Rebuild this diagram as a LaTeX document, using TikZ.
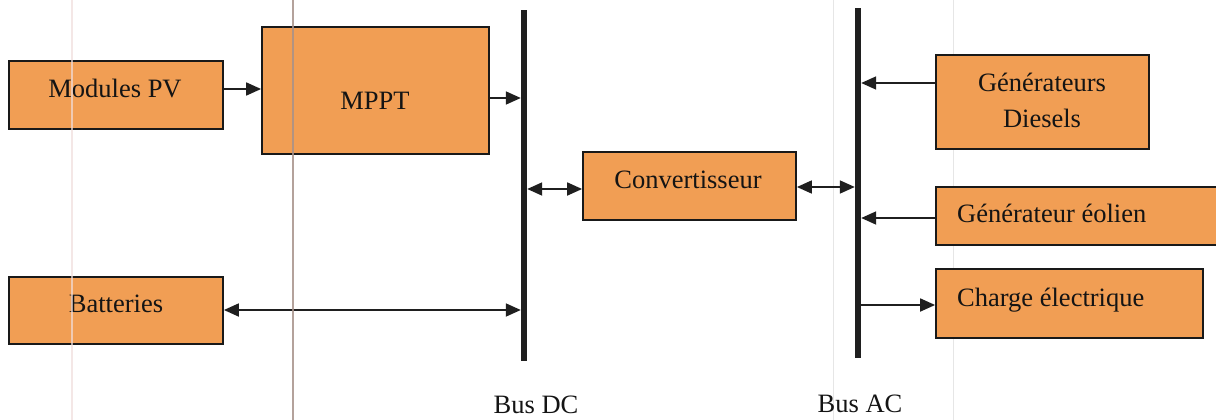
\documentclass[tikz,border=0pt]{standalone}
\usepackage{fontspec}
\setmainfont{Liberation Serif}
\usetikzlibrary{arrows.meta}
\definecolor{boxfill}{RGB}{241,158,84}
\definecolor{faintpink}{RGB}{240,222,220}
\definecolor{scangray}{RGB}{168,146,138}
\definecolor{faintgray}{RGB}{230,230,230}
\tikzset{
  block/.style={draw=black!90, line width=1.8pt, fill=boxfill, inner sep=0pt},
  busbar/.style={fill=black!88, draw=none, inner sep=0pt, minimum width=6pt},
  lbl/.style={inner sep=0pt, text=black!92, font=\fontsize{26.5}{35}\selectfont},
  tip/.tip={Triangle[length=15pt,width=13pt]},
  link/.style={line width=1.8pt, draw=black!88, -tip},
  link2/.style={line width=1.8pt, draw=black!88, tip-tip},
}
\newcommand{\blockat}[5]{% name, left, top, right, bottom
  \node[block, minimum width={(#4-#2)*1pt}, minimum height={(#5-#3)*1pt}]
    (#1) at ({(#2+#4)/2},{(#3+#5)/2}) {};}
\begin{document}
\begin{tikzpicture}[x=1pt, y=-1pt]
  \useasboundingbox (0,0) rectangle (1216,420);
  \clip (0,0) rectangle (1216,420);
  \fill[white] (0,0) rectangle (1216,420);

  % faint guide lines of the sheet
  \draw[faintgray, line width=1pt] (833,0) -- (833,420);
  \draw[faintgray, line width=1pt] (953,0) -- (953,420);

  % blocks
  \blockat{pv}{9}{61}{223}{129}
  \blockat{mppt}{262}{27}{489}{154}
  \blockat{conv}{583}{152}{796}{220}
  \blockat{diesel}{936}{55}{1149}{149}
  \blockat{eol}{936}{187}{1240}{245}
  \blockat{charge}{936}{269}{1203}{338}
  \blockat{batt}{9}{277}{223}{344}

  % buses
  \node[busbar, minimum height=351pt] (dc) at (524,185.5) {};
  \node[busbar, minimum height=350pt] (ac) at (858,183) {};

  % texts
  \node[lbl, anchor=base] (pvt) at (115,97) {Modules PV};
  \node[lbl, anchor=base] (mpptt) at (375,110) {MPPT};
  \node[lbl, anchor=base] (convt) at (688,188) {Convertisseur};
  \node[lbl, anchor=base] (dieselt1) at (1042,92) {Générateurs};
  \node[lbl, anchor=base] (dieselt2) at (1042,127.5) {Diesels};
  \node[lbl, anchor=base west] (eolt) at (957,222.5) {Générateur éolien};
  \node[lbl, anchor=base west] (charget) at (957,306.5) {Charge électrique};
  \node[lbl, anchor=base] (battt) at (116,312.5) {Batteries};
  \node[lbl, anchor=base] (dct) at (536,413) {Bus DC};
  \node[lbl, anchor=base] (act) at (860,412) {Bus AC};

  % connectors
  \draw[link] (pv.east |- 0,89) -- (mppt.west |- 0,89);
  \draw[link] (mppt.east |- 0,98) -- (dc.west |- 0,98);
  \draw[link2] (dc.east |- 0,189) -- (conv.west |- 0,189);
  \draw[link2] (conv.east |- 0,187) -- (ac.west |- 0,187);
  \draw[link] (diesel.west |- 0,83) -- (ac.east |- 0,83);
  \draw[link] (eol.west |- 0,218) -- (ac.east |- 0,218);
  \draw[link] (ac.east |- 0,305) -- (charge.west |- 0,305);
  \draw[link2] (batt.east |- 0,310) -- (dc.west |- 0,310);

  % scan lines across the sheet
  \draw[faintpink, line width=1.5pt, opacity=0.7] (72,0) -- (72,420);
  \draw[scangray, line width=2.5pt, opacity=0.85] (293,0) -- (293,420);
\end{tikzpicture}
\end{document}
